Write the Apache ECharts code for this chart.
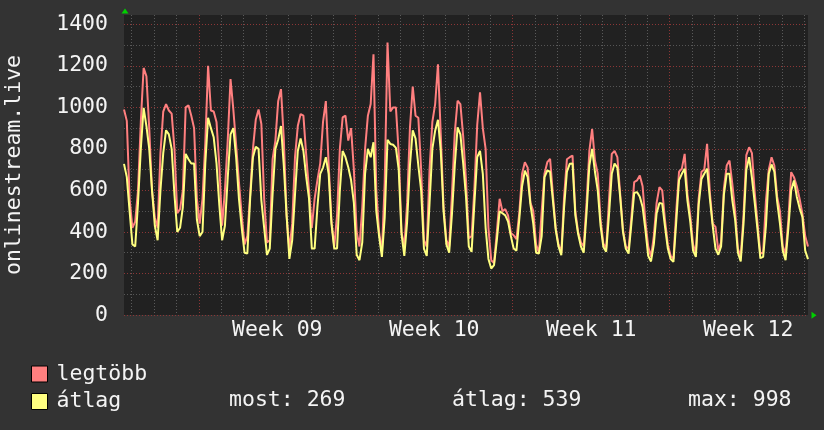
<!DOCTYPE html>
<html>
<head>
<meta charset="utf-8">
<script src="https://cdn.jsdelivr.net/npm/echarts@6/dist/echarts.min.js"></script>
<style>
html,body{margin:0;padding:0;background:#333333;}
#chart{width:824px;height:430px;}
</style>
</head>
<body>
<div id="chart"></div>
<script>
// time axis: hourly categories, hours relative to start of Week 10 (Monday 00:00)
const hourStart = -248;
const hourEnd = 484;
const sampleStep = 3; // hours between samples
const weekLabels = ['Week 09', 'Week 10', 'Week 11', 'Week 12'];
const firstWeekStartHour = -168;
const seriesNames = ['legtöbb', 'átlag'];
const statTexts = ['most: 269', 'átlag: 539', 'max: 998'];

// legtöbb (max) values, one per 3 hours
const legtobb = [
 990,935,560,420,450,600,930,1190,1150,900,600,470,420,780,980,1016,985,970,800,490,
 510,600,1000,1010,960,900,560,440,560,830,1200,985,980,930,720,430,600,840,1136,990,
 820,640,480,340,380,580,800,940,990,920,560,350,360,750,840,1030,1088,850,480,315,
 440,760,910,968,960,770,600,420,560,650,730,930,1030,730,456,330,480,800,952,960,
 840,900,700,400,330,520,800,960,1016,1256,600,400,300,640,1312,980,1000,1000,780,400,
 330,540,900,1100,960,950,700,360,330,700,930,1016,1208,870,520,360,330,584,880,1032,
 1016,860,650,370,380,610,915,1072,900,800,420,264,250,400,560,500,510,480,395,384,
 365,490,680,736,710,540,500,340,300,500,680,736,752,580,420,340,300,570,750,760,
 768,500,400,350,330,540,790,896,744,680,460,344,320,550,776,790,760,584,410,330,
 320,470,640,648,672,620,450,330,280,380,540,616,600,456,340,285,270,500,690,705,
 776,580,480,340,296,560,690,700,824,590,440,424,310,350,610,720,744,632,500,320,
 280,480,770,808,780,590,440,296,300,550,700,760,720,570,500,330,296,460,688,664,
 620,560,488,380,330
];
// átlag (average) values, one per 3 hours
const atlag = [
 728,664,500,340,330,540,800,998,910,800,600,430,360,600,780,890,870,800,580,400,
 420,520,776,750,730,730,460,380,400,730,950,900,856,730,530,360,430,660,870,900,
 760,560,420,300,296,560,760,810,800,552,420,290,320,580,800,845,910,720,480,270,
 360,580,790,850,790,665,560,320,320,520,680,710,760,680,440,320,320,600,790,760,
 712,650,540,290,264,350,680,800,760,832,500,380,280,470,844,824,820,805,700,390,
 285,450,720,890,850,720,600,320,285,540,800,888,940,790,500,340,300,488,720,904,
 870,730,570,330,304,540,760,790,680,420,270,224,240,360,500,490,480,450,380,320,
 310,460,620,695,664,530,440,300,296,380,664,696,690,552,410,330,288,520,690,728,
 730,480,390,330,300,490,720,800,690,600,430,328,305,480,680,730,710,568,400,320,
 296,440,588,592,570,520,410,285,258,340,490,540,536,424,320,270,256,450,650,680,
 704,550,450,310,280,530,655,680,705,560,430,320,290,330,580,680,680,552,460,300,
 258,440,700,760,660,540,410,274,280,430,680,725,690,545,440,310,264,420,600,648,
 570,515,472,310,269
];

const hours = [];
for (let h = hourStart; h <= hourEnd; h++) hours.push(String(h));
const mod = (a, n) => ((a % n) + n) % n;
const toPoints = arr => arr.map((v, i) => [i * sampleStep, v]);

const FONT = "'DejaVu Sans Mono', monospace";
const TXT = '#f4f4f4';

const legendBase = {
  orient: 'vertical', left: 31, padding: 0,
  itemWidth: 16, itemHeight: 16,
  icon: 'rect',
  itemStyle: {borderColor: '#000000', borderWidth: 1},
  textStyle: {color: TXT, fontFamily: FONT, fontSize: 21.5, padding: [0, 0, 0, 4]},
  selectedMode: false
};

const chart = echarts.init(document.getElementById('chart'), null, {renderer: 'canvas'});
chart.setOption({
  animation: false,
  backgroundColor: '#333333',
  grid: {left: 124, right: 16, top: 15, bottom: 115, show: true, backgroundColor: '#212121', borderWidth: 0,
         containLabel: false, outerBoundsMode: 'none'},
  legend: [
    Object.assign({}, legendBase, {top: 363, data: [seriesNames[0]]}),
    Object.assign({}, legendBase, {top: 390.5, data: [seriesNames[1]]})
  ],
  xAxis: [
    {
      type: 'category', data: hours, boundaryGap: false, position: 'bottom',
      axisLine: {show: false},
      axisTick: {show: false},
      axisLabel: {
        interval: (idx, val) => mod(Number(val), 168) === 84,
        formatter: val => weekLabels[Math.floor((Number(val) - firstWeekStartHour) / 168)],
        color: TXT, fontFamily: FONT, fontSize: 21.5, margin: 4
      },
      splitLine: {
        show: true,
        interval: (idx, val) => mod(Number(val), 24) === 0 && mod(Number(val), 168) !== 0,
        lineStyle: {color: '#5a5a5a', type: [1, 2], width: 1}
      }
    },
    {
      type: 'category', data: hours, boundaryGap: false, position: 'top',
      axisLine: {show: false}, axisTick: {show: false}, axisLabel: {show: false},
      splitLine: {
        show: true,
        interval: (idx, val) => mod(Number(val), 168) === 0,
        lineStyle: {color: '#8c3636', type: [1, 2], width: 1}
      }
    }
  ],
  yAxis: {
    type: 'value', min: 0, max: 1445, interval: 100,
    name: 'onlinestream.live', nameLocation: 'middle', nameGap: 99, nameRotate: 90,
    nameTextStyle: {color: TXT, fontFamily: FONT, fontSize: 21.5},
    axisLine: {show: false}, axisTick: {show: false},
    axisLabel: {
      color: TXT, fontFamily: FONT, fontSize: 21.5, margin: 16,
      formatter: v => (v % 200 === 0 ? String(v) : '')
    },
    splitLine: {
      show: true, showMaxLine: false,
      lineStyle: {color: ['#8c3636', '#555555'], type: [1, 2], width: 1}
    }
  },
  series: [
    {
      name: seriesNames[0], type: 'line', xAxisIndex: 0, data: toPoints(legtobb),
      showSymbol: false, symbol: 'none',
      itemStyle: {color: '#ff7f7f'},
      lineStyle: {color: '#ff7f7f', width: 2}
    },
    {
      name: seriesNames[1], type: 'line', xAxisIndex: 0, data: toPoints(atlag),
      showSymbol: false, symbol: 'none',
      itemStyle: {color: '#ffff80'},
      lineStyle: {color: '#ffff80', width: 2}
    }
  ],
  graphic: [
    {type: 'text', left: 229, top: 389, style: {text: statTexts[0], fill: TXT, font: "21.5px 'DejaVu Sans Mono'"}},
    {type: 'text', left: 452, top: 389, style: {text: statTexts[1], fill: TXT, font: "21.5px 'DejaVu Sans Mono'"}},
    {type: 'text', left: 688, top: 389, style: {text: statTexts[2], fill: TXT, font: "21.5px 'DejaVu Sans Mono'"}},
    {type: 'polygon', shape: {points: [[125, 8.5], [121.5, 13.5], [128.5, 13.5]]}, style: {fill: '#00d000'}},
    {type: 'polygon', shape: {points: [[816.5, 315.3], [811.5, 311.8], [811.5, 318.8]]}, style: {fill: '#00d000'}}
  ]
});
</script>
</body>
</html>
